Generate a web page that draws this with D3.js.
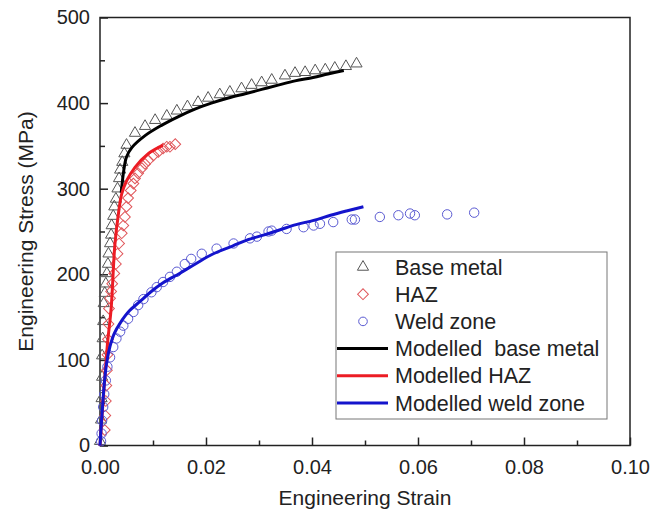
<!DOCTYPE html>
<html>
<head>
<meta charset="utf-8">
<script src="https://cdn.jsdelivr.net/npm/d3@7"></script>
<style>
  body { margin: 0; background: #fff; }
  svg { display: block; font-family: "Liberation Sans", Arial, sans-serif; }
</style>
</head>
<body>
<div id="chart"></div>
<script>
// Measured points: [strain, stress (MPa)]
const baseMetal = [
  [0.0000, 5], [0.0002, 30], [0.0003, 55], [0.0004, 80], [0.0004, 105], [0.0005, 125],
  [0.0006, 145], [0.0007, 166], [0.0009, 178], [0.0011, 189], [0.0013, 201], [0.0015, 212],
  [0.0016, 224], [0.0019, 236], [0.0021, 246], [0.0022, 257], [0.0025, 268], [0.0027, 279],
  [0.0030, 288], [0.0033, 300], [0.0036, 312], [0.0038, 322], [0.0042, 331], [0.0046, 341],
  [0.0050, 351], [0.0066, 365], [0.0085, 373], [0.0104, 380], [0.0126, 385], [0.0145, 391],
  [0.0165, 396], [0.0185, 401], [0.0204, 406], [0.0226, 410], [0.0245, 413], [0.0267, 417],
  [0.0286, 421], [0.0305, 424], [0.0324, 427], [0.0349, 432], [0.0368, 435], [0.0387, 436],
  [0.0406, 438], [0.0425, 439], [0.0443, 441], [0.0464, 443], [0.0484, 446]
];
const haz = [
  [0.0009, 18], [0.0010, 35], [0.0011, 52], [0.0012, 70], [0.0013, 88], [0.0014, 106],
  [0.0015, 124], [0.0016, 142], [0.0017, 160], [0.0019, 172], [0.0021, 180], [0.0023, 189],
  [0.0027, 201], [0.0030, 212], [0.0033, 224], [0.0036, 236], [0.0041, 248], [0.0044, 257],
  [0.0047, 267], [0.0050, 279], [0.0053, 289], [0.0058, 298], [0.0063, 306], [0.0066, 312],
  [0.0072, 318], [0.0079, 324], [0.0085, 329], [0.0091, 333], [0.0101, 339], [0.0110, 343],
  [0.0119, 347], [0.0126, 349], [0.0132, 349], [0.0142, 352]
];
const weldZone = [
  [0.0002, 5], [0.0003, 14], [0.0004, 29], [0.0006, 45], [0.0008, 60], [0.0011, 76],
  [0.0014, 92], [0.0019, 103], [0.0025, 115], [0.0031, 125], [0.0038, 133], [0.0044, 140],
  [0.0053, 148], [0.0063, 156], [0.0072, 164], [0.0082, 171], [0.0097, 179], [0.0107, 185],
  [0.0119, 191], [0.0132, 197], [0.0145, 203], [0.0160, 212], [0.0172, 218], [0.0192, 224],
  [0.0220, 230], [0.0252, 236], [0.0283, 242], [0.0296, 244], [0.0318, 250], [0.0324, 251],
  [0.0352, 253], [0.0384, 255], [0.0403, 257], [0.0415, 259], [0.0440, 261], [0.0475, 264],
  [0.0481, 264], [0.0528, 267], [0.0563, 269], [0.0585, 271], [0.0594, 269], [0.0655, 270],
  [0.0706, 272]
];

// Modelled curves
const modelBase = [
  [0.0040, 295], [0.0045, 322], [0.0050, 337], [0.0060, 348], [0.0085, 362], [0.0116, 374],
  [0.0147, 384], [0.0179, 393], [0.0210, 400], [0.0242, 406], [0.0274, 411], [0.0305, 416],
  [0.0336, 421], [0.0368, 426], [0.0402, 430], [0.0430, 434], [0.0460, 438]
];
const modelHaz = [
  [0.0000, 0], [0.0014, 118], [0.0021, 160], [0.0028, 234], [0.0035, 272], [0.0041, 294],
  [0.0050, 309], [0.0066, 325], [0.0091, 341], [0.0119, 351]
];
const modelWeld = [
  [0.0000, 0], [0.0003, 30], [0.0006, 56], [0.0009, 78], [0.0013, 98], [0.0019, 116],
  [0.0027, 131], [0.0038, 143], [0.0055, 157], [0.0075, 168], [0.0095, 179], [0.0119, 190],
  [0.0150, 201], [0.0180, 212], [0.0214, 224], [0.0250, 233], [0.0277, 240], [0.0310, 246],
  [0.0340, 252], [0.0370, 258], [0.0403, 263], [0.0435, 269], [0.0465, 274], [0.0497, 279]
];

const xTicks = [0, 0.02, 0.04, 0.06, 0.08, 0.10];
const yTicks = [0, 100, 200, 300, 400, 500];
const legendLabels = ['Base metal', 'HAZ', 'Weld zone', 'Modelled  base metal', 'Modelled HAZ', 'Modelled weld zone'];

// Set the dimensions and margins of the chart.
const W = 664, H = 513;
const margin = {top: 17.5, right: 34, bottom: 67.5, left: 100};
const width = W - margin.left - margin.right;
const height = H - margin.top - margin.bottom;

const svg = d3.select('#chart')
  .append('svg')
    .attr('width', W)
    .attr('height', H);

const g = svg.append('g')
  .attr('transform', `translate(${margin.left},${margin.top})`);

const x = d3.scaleLinear().domain([0, 0.10]).range([0, width]);
const y = d3.scaleLinear().domain([0, 500]).range([height, 0]);

const axisColor = '#222';

// Frame
g.append('rect')
  .attr('width', width)
  .attr('height', height)
  .attr('fill', 'none')
  .attr('stroke', axisColor)
  .attr('stroke-width', 1.5);

// Minor ticks
g.append('g')
  .attr('transform', `translate(0,${height})`)
  .call(d3.axisBottom(x).tickValues(d3.range(0.01, 0.1, 0.02)).tickSize(-5).tickFormat(''))
  .call(a => a.select('.domain').remove())
  .selectAll('line').attr('stroke', axisColor).attr('stroke-width', 1.5);
g.append('g')
  .call(d3.axisLeft(y).tickValues([50, 150, 250, 350, 450]).tickSize(-5).tickFormat(''))
  .call(a => a.select('.domain').remove())
  .selectAll('line').attr('stroke', axisColor).attr('stroke-width', 1.5);

// X axis
const xAxis = g.append('g')
  .attr('transform', `translate(0,${height})`)
  .call(d3.axisBottom(x).tickValues(xTicks).tickSize(-8).tickPadding(14).tickFormat(d3.format('.2f')));
xAxis.select('.domain').remove();
xAxis.selectAll('line').attr('stroke', axisColor).attr('stroke-width', 1.5);
xAxis.selectAll('text')
  .attr('fill', axisColor)
  .style('font-size', '20px')
  .style('font-family', '"Liberation Sans", Arial, sans-serif');

// Y axis
const yAxis = g.append('g')
  .call(d3.axisLeft(y).tickValues(yTicks).tickSize(-8).tickPadding(10));
yAxis.select('.domain').remove();
yAxis.selectAll('line').attr('stroke', axisColor).attr('stroke-width', 1.5);
yAxis.selectAll('text')
  .attr('fill', axisColor)
  .style('font-size', '20px')
  .style('font-family', '"Liberation Sans", Arial, sans-serif');

// Axis titles
svg.append('text')
  .attr('x', margin.left + width / 2)
  .attr('y', 505)
  .attr('text-anchor', 'middle')
  .attr('fill', axisColor)
  .style('font-size', '21px')
  .text('Engineering Strain');
svg.append('text')
  .attr('transform', `translate(33,${margin.top + height / 2}) rotate(-90)`)
  .attr('text-anchor', 'middle')
  .attr('fill', axisColor)
  .style('font-size', '21px')
  .text('Engineering Stress (MPa)');

// Marker shapes
const triangle = d3.symbol().type(d3.symbolTriangle).size(54);
const diamond = d3.symbol().type(d3.symbolSquare).size(58);
const styles = {
  tri: {stroke: '#555', path: triangle(), rot: 0},
  dia: {stroke: '#e0565a', path: diamond(), rot: 45},
  cir: {stroke: '#5a5ad2'}
};

function drawMarkers(data, kind) {
  const s = styles[kind];
  const sel = g.append('g').selectAll('.m')
    .data(data)
    .enter();
  if (kind === 'cir') {
    sel.append('circle')
      .attr('cx', d => x(d[0]))
      .attr('cy', d => y(d[1]))
      .attr('r', 4.7)
      .attr('fill', 'none')
      .attr('stroke', s.stroke)
      .attr('stroke-width', 1);
  } else {
    sel.append('path')
      .attr('d', s.path)
      .attr('transform', d => `translate(${x(d[0])},${y(d[1])}) rotate(${s.rot})`)
      .attr('fill', 'none')
      .attr('stroke', s.stroke)
      .attr('stroke-width', 1);
  }
}

drawMarkers(baseMetal, 'tri');
drawMarkers(haz, 'dia');
drawMarkers(weldZone, 'cir');

// Modelled lines
const line = d3.line()
  .x(d => x(d[0]))
  .y(d => y(d[1]))
  .curve(d3.curveCatmullRom.alpha(0.5));

const modelLines = [
  {data: modelBase, color: '#000'},
  {data: modelHaz, color: '#ec1c24'},
  {data: modelWeld, color: '#1414cc'}
];
modelLines.forEach(m => {
  g.append('path')
    .datum(m.data)
    .attr('d', line)
    .attr('fill', 'none')
    .attr('stroke', m.color)
    .attr('stroke-width', 3)
    .attr('stroke-linejoin', 'round');
});

// Legend
const legend = svg.append('g').attr('transform', 'translate(336,252)');
legend.append('rect')
  .attr('width', 271)
  .attr('height', 167)
  .attr('fill', '#fff')
  .attr('stroke', '#777')
  .attr('stroke-width', 1);

const rowH = 27.2;
legendLabels.forEach((label, i) => {
  const cy = 15 + i * rowH;
  const row = legend.append('g').attr('transform', `translate(0,${cy})`);
  if (i === 0) {
    row.append('path').attr('d', triangle()).attr('transform', 'translate(27,0)')
      .attr('fill', 'none').attr('stroke', styles.tri.stroke);
  } else if (i === 1) {
    row.append('path').attr('d', diamond()).attr('transform', 'translate(27,0) rotate(45)')
      .attr('fill', 'none').attr('stroke', styles.dia.stroke);
  } else if (i === 2) {
    row.append('circle').attr('cx', 27).attr('r', 4.3)
      .attr('fill', 'none').attr('stroke', styles.cir.stroke);
  } else {
    row.append('line').attr('x1', 1).attr('x2', 52)
      .attr('stroke', modelLines[i - 3].color).attr('stroke-width', 3);
  }
  row.append('text')
    .attr('x', 59)
    .attr('y', 7.5)
    .attr('fill', axisColor)
    .style('font-size', '21.5px')
    .style('white-space', 'pre')
    .text(label);
});
</script>
</body>
</html>
